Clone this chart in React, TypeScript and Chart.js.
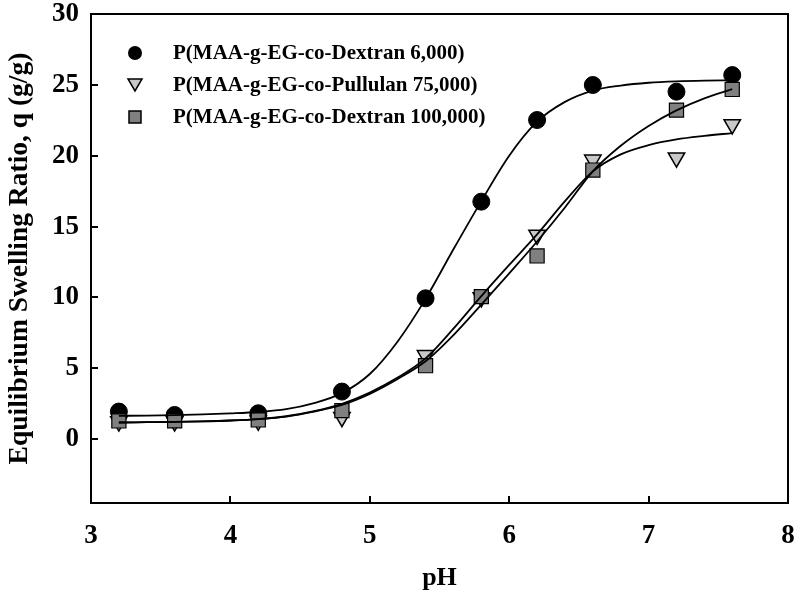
import React, { useEffect, useRef } from 'react';
import { Chart, registerables } from 'chart.js';

Chart.register(...registerables);

// Measured points
const phPoints = [3.2, 3.6, 4.2, 4.8, 5.4, 5.8, 6.2, 6.6, 7.2, 7.6];
const dextran6k = [1.95, 1.71, 1.83, 3.36, 9.94, 16.76, 22.52, 24.99, 24.52, 25.69];
const pullulan75k = [1.25, 1.25, 1.3, 1.55, 5.92, 10.0, 14.41, 19.71, 19.86, 22.21];
const dextran100k = [1.29, 1.3, 1.36, 2.02, 5.19, 10.06, 12.93, 18.99, 23.22, 24.68];

// Fitted curves
const curvePh = [3.2, 3.4, 3.6, 3.8, 4.0, 4.2, 4.4, 4.6, 4.8, 5.0, 5.2, 5.4, 5.6, 5.8, 6.0, 6.2, 6.4, 6.6, 6.8, 7.0, 7.2, 7.4, 7.6];
const fit6k = [1.65, 1.67, 1.7, 1.75, 1.82, 1.92, 2.12, 2.55, 3.25, 4.6, 6.9, 9.9, 13.4, 16.8, 20.0, 22.4, 23.8, 24.6, 24.95, 25.15, 25.25, 25.3, 25.32];
const fitPullulan = [1.18, 1.2, 1.22, 1.26, 1.32, 1.42, 1.62, 1.98, 2.5, 3.3, 4.35, 5.7, 7.8, 10.1, 12.3, 14.45, 16.8, 18.9, 20.1, 20.75, 21.15, 21.4, 21.6];
const fit100k = [1.18, 1.2, 1.22, 1.26, 1.32, 1.42, 1.6, 1.95, 2.42, 3.2, 4.25, 5.5, 7.35, 9.5, 11.7, 13.95, 16.35, 18.9, 20.7, 22.1, 23.2, 24.05, 24.7];

const seriesLabels = [
  'P(MAA-g-EG-co-Dextran 6,000)',
  'P(MAA-g-EG-co-Pullulan 75,000)',
  'P(MAA-g-EG-co-Dextran 100,000)',
];

const xTickValues = [3, 4, 5, 6, 7, 8];
const yTickValues = [0, 5, 10, 15, 20, 25, 30];

const FONT = "'Liberation Serif', 'Times New Roman', serif";

const toXY = (xs: number[], ys: number[]) => xs.map((x, i) => ({ x, y: ys[i] }));

const boxAndTicks = {
  id: 'boxAndTicks',
  afterDatasetsDraw(chart: any) {
    const { ctx, chartArea } = chart;
    const xs = chart.scales.x;
    const ys = chart.scales.y;
    ctx.save();
    ctx.strokeStyle = '#000';
    ctx.lineWidth = 2;
    ctx.strokeRect(chartArea.left, chartArea.top, chartArea.right - chartArea.left, chartArea.bottom - chartArea.top);
    ctx.beginPath();
    xTickValues.forEach((v) => {
      const px = Math.round(xs.getPixelForValue(v));
      ctx.moveTo(px, chartArea.bottom);
      ctx.lineTo(px, chartArea.bottom - 7);
    });
    yTickValues.forEach((v) => {
      const py = Math.round(ys.getPixelForValue(v));
      ctx.moveTo(chartArea.left, py);
      ctx.lineTo(chartArea.left + 7, py);
    });
    ctx.stroke();

    // legend
    const mx = 135;
    const tx = 173;
    const rows = [53, 85, 117];
    // circle
    ctx.fillStyle = '#000';
    ctx.beginPath();
    ctx.arc(mx, rows[0], 7, 0, Math.PI * 2);
    ctx.fill();
    // triangle (down)
    ctx.fillStyle = '#c8c8c8';
    ctx.beginPath();
    ctx.moveTo(mx - 7, rows[1] - 6);
    ctx.lineTo(mx + 7, rows[1] - 6);
    ctx.lineTo(mx, rows[1] + 6);
    ctx.closePath();
    ctx.fill();
    ctx.lineWidth = 1.5;
    ctx.stroke();
    // square
    ctx.fillStyle = '#808080';
    ctx.fillRect(mx - 6, rows[2] - 6, 12, 12);
    ctx.strokeRect(mx - 6, rows[2] - 6, 12, 12);

    ctx.fillStyle = '#000';
    ctx.font = `bold 21px ${FONT}`;
    ctx.textBaseline = 'middle';
    ctx.textAlign = 'left';
    seriesLabels.forEach((t, i) => ctx.fillText(t, tx, rows[i] + 1));
    ctx.restore();
  },
};

export default function App() {
  const ref = useRef<HTMLCanvasElement>(null);
  useEffect(() => {
    document.body.style.margin = '0';
    const canvas = ref.current!;
    const lineDs = (data: number[]) => ({
      type: 'line' as const,
      data: toXY(curvePh, data),
      borderColor: '#000',
      borderWidth: 1.8,
      pointRadius: 0,
      fill: false,
      cubicInterpolationMode: 'monotone' as const,
      order: 0,
      showLine: true,
    });
    const chart = new Chart(canvas, {
      type: 'scatter',
      data: {
        datasets: [
          lineDs(fit6k),
          lineDs(fitPullulan),
          lineDs(fit100k),
          {
            label: seriesLabels[2],
            data: toXY(phPoints, dextran100k),
            pointStyle: 'rect',
            pointRadius: 10,
            backgroundColor: '#808080',
            borderColor: '#000',
            borderWidth: 1.2,
            order: 1,
          },
          {
            label: seriesLabels[1],
            data: toXY(phPoints, pullulan75k),
            pointStyle: 'triangle',
            rotation: 180,
            pointRadius: 9.5,
            backgroundColor: '#c8c8c8',
            borderColor: '#000',
            borderWidth: 1.5,
            order: 2,
          },
          {
            label: seriesLabels[0],
            data: toXY(phPoints, dextran6k),
            pointStyle: 'circle',
            pointRadius: 8.5,
            backgroundColor: '#000',
            borderColor: '#000',
            borderWidth: 1,
            order: 3,
          },
        ] as any,
      },
      options: {
        responsive: false,
        animation: false,
        events: [],
        layout: { padding: { top: 14, right: 12, left: 0, bottom: 0 } },
        plugins: { legend: { display: false }, tooltip: { enabled: false } },
        scales: {
          x: {
            type: 'linear',
            min: 3,
            max: 8,
            afterBuildTicks: (s: any) => { s.ticks = xTickValues.map((v) => ({ value: v })); },
            ticks: { color: '#000', font: { family: FONT, size: 27, weight: 'bold' }, padding: 17, maxRotation: 0 },
            grid: { display: false, drawTicks: false },
            border: { display: false },
            title: { display: true, text: 'pH', color: '#000', font: { family: FONT, size: 26, weight: 'bold' }, padding: { top: 0, bottom: 9 } },
            afterFit: (s: any) => { s.height = 100; s.paddingLeft = 0; s.paddingRight = 0; },
          },
          y: {
            type: 'linear',
            min: -4.5,
            max: 30,
            afterBuildTicks: (s: any) => { s.ticks = yTickValues.map((v) => ({ value: v })); },
            ticks: { color: '#000', font: { family: FONT, size: 27, weight: 'bold' }, padding: 12 },
            grid: { display: false, drawTicks: false },
            border: { display: false },
            title: { display: true, text: 'Equilibrium Swelling Ratio, q (g/g)', color: '#000', font: { family: FONT, size: 27.5, weight: 'bold' }, padding: { top: 3, bottom: 0 } },
            afterFit: (s: any) => { s.width = 91; s.paddingTop = 0; s.paddingBottom = 0; },
          },
        },
      } as any,
      plugins: [boxAndTicks],
    });
    return () => chart.destroy();
  }, []);
  return (
    <div style={{ width: 800, height: 603 }}>
      <canvas ref={ref} width={800} height={603} />
    </div>
  );
}
